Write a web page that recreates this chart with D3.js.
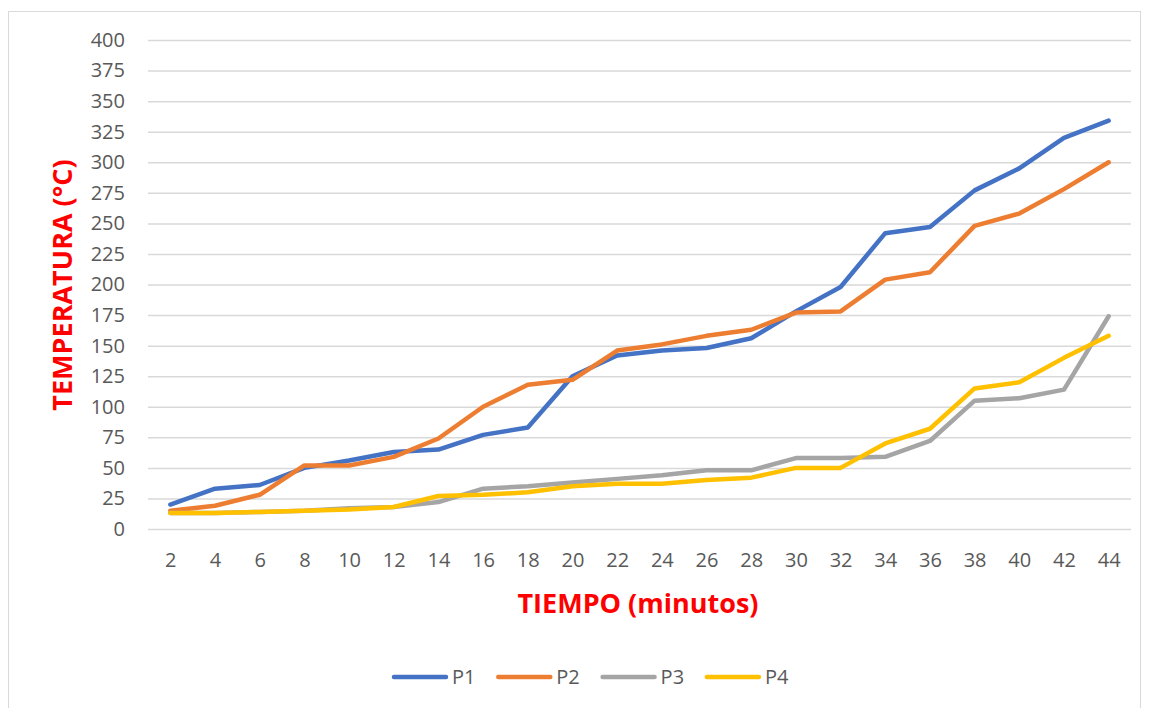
<!DOCTYPE html>
<html>
<head>
<meta charset="utf-8">
<script src="https://cdn.jsdelivr.net/npm/d3@7"></script>
<style>
  body { margin: 0; background: #fff; }
  svg text { font-family: "Open Sans", "Liberation Sans", sans-serif; }
</style>
</head>
<body>
<div id="chart"></div>
<script>
const minutes = [2, 4, 6, 8, 10, 12, 14, 16, 18, 20, 22, 24, 26, 28, 30, 32, 34, 36, 38, 40, 42, 44];
const p1 = [20, 33, 36, 50, 56, 63, 65, 77, 83, 125, 142, 146, 148, 156, 178, 198, 242, 247, 277, 295, 320, 334];
const p2 = [15, 19, 28, 52, 52, 59, 74, 100, 118, 122, 146, 151, 158, 163, 177, 178, 204, 210, 248, 258, 278, 300];
const p3 = [13, 13, 14, 15, 17, 18, 22, 33, 35, 38, 41, 44, 48, 48, 58, 58, 59, 72, 105, 107, 114, 174];
const p4 = [13, 13, 14, 15, 16, 18, 27, 28, 30, 35, 37, 37, 40, 42, 50, 50, 70, 82, 115, 120, 140, 158];
const yTicks = d3.range(0, 401, 25);

const series = [
  { name: 'P1', values: p1, color: '#4472C4' },
  { name: 'P2', values: p2, color: '#ED7D31' },
  { name: 'P3', values: p3, color: '#A5A5A5' },
  { name: 'P4', values: p4, color: '#FFC000' }
];

function drawChart() {
  const width = 1149, height = 708;
  const plot = { left: 148, right: 1131, top: 40, bottom: 529 };

  const svg = d3.select('#chart').append('svg')
    .attr('width', width)
    .attr('height', height);

  // chart frame
  svg.append('rect')
    .attr('x', 8.5).attr('y', 11.5)
    .attr('width', 1132).attr('height', 720)
    .attr('fill', 'none')
    .attr('stroke', '#D9D9D9');

  const x = d3.scalePoint().domain(minutes).range([plot.left, plot.right]).padding(0.5);
  const y = d3.scaleLinear().domain([0, 400]).range([plot.bottom, plot.top]);

  // gridlines
  svg.append('g')
    .attr('class', 'grid')
    .attr('transform', `translate(${plot.left},0)`)
    .call(d3.axisLeft(y).tickValues(yTicks).tickSize(-(plot.right - plot.left)).tickFormat(''))
    .call(g => g.select('.domain').remove())
    .call(g => g.selectAll('line').attr('stroke', '#D9D9D9').attr('stroke-width', 1.5));

  // y axis labels
  svg.append('g')
    .attr('class', 'y-axis')
    .attr('transform', `translate(${plot.left - 23},0)`)
    .call(d3.axisLeft(y).tickValues(yTicks).tickSize(0).tickPadding(0))
    .call(g => g.select('.domain').remove())
    .call(g => g.selectAll('text')
      .attr('fill', '#595959')
      .style('font-size', '20px'));

  // x axis labels
  svg.append('g')
    .attr('class', 'x-axis')
    .attr('transform', `translate(0,${plot.bottom})`)
    .call(d3.axisBottom(x).tickSize(0).tickPadding(24))
    .call(g => g.select('.domain').remove())
    .call(g => g.selectAll('text')
      .attr('fill', '#595959')
      .style('font-size', '20px'));

  // axis titles
  svg.append('text')
    .attr('x', 638).attr('y', 613)
    .attr('text-anchor', 'middle')
    .attr('fill', '#FF0000')
    .style('font-size', '27px')
    .style('font-weight', 'bold')
    .text('TIEMPO (minutos)');

  svg.append('text')
    .attr('transform', 'translate(72,285) rotate(-90)')
    .attr('text-anchor', 'middle')
    .attr('fill', '#FF0000')
    .style('font-size', '27px')
    .style('font-weight', 'bold')
    .text('TEMPERATURA (°C)');

  // lines
  const line = d3.line()
    .x((d, i) => x(minutes[i]))
    .y(d => y(d));

  svg.append('g').selectAll('path')
    .data(series)
    .join('path')
    .attr('fill', 'none')
    .attr('stroke', d => d.color)
    .attr('stroke-width', 4.5)
    .attr('stroke-linejoin', 'round')
    .attr('stroke-linecap', 'round')
    .attr('d', d => line(d.values));

  // legend
  const legend = svg.append('g')
    .attr('transform', 'translate(392,677)')
    .selectAll('g')
    .data(series)
    .join('g')
    .attr('transform', (d, i) => `translate(${i * 104.3},0)`);

  legend.append('line')
    .attr('x1', 2).attr('x2', 54)
    .attr('stroke', d => d.color)
    .attr('stroke-width', 4.5)
    .attr('stroke-linecap', 'round');

  legend.append('text')
    .attr('x', 60).attr('y', 7)
    .attr('fill', '#595959')
    .style('font-size', '20px')
    .text(d => d.name);
}

drawChart();
</script>
</body>
</html>
